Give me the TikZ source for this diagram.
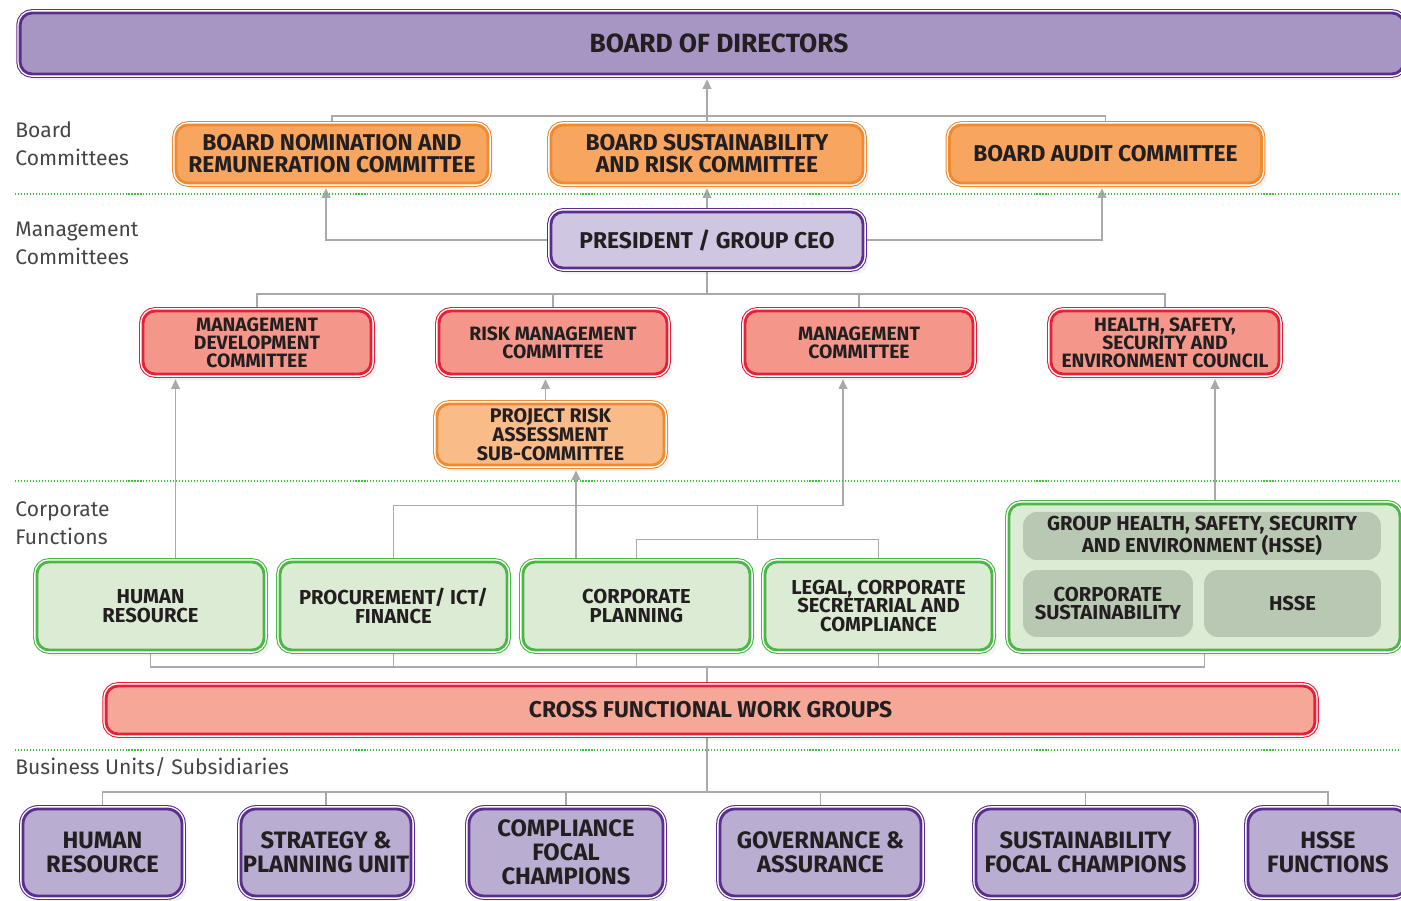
\documentclass[tikz,border=0pt]{standalone}
\usepackage{fontspec}
\setmainfont{Fira Sans}
\newfontfamily\boxfont{Fira Sans}
\usetikzlibrary{%
    arrows.meta,
    backgrounds,
    calc,
    positioning,
    shadows
}

\definecolor{inkdark}{HTML}{231F20}
\definecolor{tiergray}{HTML}{454545}
\definecolor{linkgray}{HTML}{A7A9AC}
\definecolor{sepgreen}{HTML}{3EC13C}
\definecolor{purpleline}{HTML}{5B2D8E}
\definecolor{bodfill}{HTML}{A795C4}
\definecolor{ceofill}{HTML}{CFC6E2}
\definecolor{unitfill}{HTML}{B9ADD2}
\definecolor{orangeline}{HTML}{F0892F}
\definecolor{orangefill}{HTML}{F8A55F}
\definecolor{subfill}{HTML}{F9BB88}
\definecolor{redline}{HTML}{E5213A}
\definecolor{mgmtfill}{HTML}{F4978A}
\definecolor{crossfill}{HTML}{F6A898}
\definecolor{greenline}{HTML}{4CB748}
\definecolor{funcfill}{HTML}{DCEBD4}
\definecolor{innerfill}{HTML}{B9C8B3}

\tikzset{
    ring/.style={
        drop shadow={opacity=.1, shadow xshift=.1cm, shadow yshift=-.12cm},
        preaction={draw=#1, line width=4.4pt},
        preaction={draw=white, line width=3.2pt},
        draw=#1, line width=1.6pt},
    box/.style={rounded corners=.24cm, align=center, inner sep=0pt,
        text=inkdark},
    bodbox/.style={box, ring=purpleline, fill=bodfill,
        font=\boxfont\bfseries\fontsize{15}{15}\selectfont},
    boardbox/.style={box, ring=orangeline, fill=orangefill,
        minimum width=6.24cm, minimum height=1.16cm,
        font=\boxfont\bfseries\fontsize{13}{12.5}\selectfont},
    ceobox/.style={box, ring=purpleline, fill=ceofill,
        minimum width=6.24cm, minimum height=1.12cm,
        font=\boxfont\bfseries\fontsize{13}{12.5}\selectfont},
    mgmtbox/.style={box, ring=redline, fill=mgmtfill,
        minimum width=4.56cm, minimum height=1.26cm,
        font=\boxfont\bfseries\fontsize{11}{10.3}\selectfont},
    subbox/.style={box, ring=orangeline, fill=subfill,
        minimum width=4.54cm, minimum height=1.22cm,
        font=\boxfont\bfseries\fontsize{11.2}{10.8}\selectfont},
    funcbox/.style={box, ring=greenline, fill=funcfill,
        minimum width=4.54cm, minimum height=1.76cm,
        font=\boxfont\bfseries\fontsize{11.5}{10.5}\selectfont},
    innerbox/.style={box, fill=innerfill, rounded corners=.28cm,
        font=\boxfont\bfseries\fontsize{11.5}{10.5}\selectfont},
    crossbox/.style={box, ring=redline, fill=crossfill,
        font=\boxfont\bfseries\fontsize{13}{13}\selectfont},
    unitbox/.style={box, ring=purpleline, fill=unitfill,
        rounded corners=.3cm, minimum height=1.74cm,
        font=\boxfont\bfseries\fontsize{13.5}{13.6}\selectfont},
}

\begin{document}
\begin{tikzpicture}[x=0.02cm, y=-0.02cm,
        line/.style={draw=linkgray, line width=.8pt},
        arr/.style={line, -{Triangle[length=5.5pt,width=5pt]}, shorten >=2.2pt},
        sep/.style={draw=sepgreen, line width=.9pt, dash pattern=on .6pt off 1.1pt},
        tier/.style={align=left, anchor=west, inner sep=0pt, text=tiergray,
            font=\fontsize{12}{16}\selectfont},
    ]
    \useasboundingbox (0,0) rectangle (1401,901);

    % tiers
    \draw[sep] (15,194) -- (1401,194);
    \draw[sep] (15,481) -- (1401,481);
    \draw[sep] (15,750) -- (1401,750);
    \node[tier] (lbboard) at (15,144) {Board\\Committees};
    \node[tier] (lbmgmt)  at (15,243) {Management\\Committees};
    \node[tier] (lbfunc)  at (15,523) {Corporate\\Functions};
    \node[tier] (lbunit)  at (15,767) {Business Units/ Subsidiaries};

    \node[bodbox, minimum width=27.68cm, minimum height=1.22cm] (bod) at (712,43.5)
        {\hspace*{.28cm}BOARD OF DIRECTORS};

    \node[boardbox] (bnrc) at (332,154)    {BOARD NOMINATION AND\\REMUNERATION COMMITTEE};
    \node[boardbox] (bsrc) at (707,154)    {BOARD SUSTAINABILITY\\AND RISK COMMITTEE};
    \node[boardbox] (bac)  at (1105.5,154) {BOARD AUDIT COMMITTEE};

    \node[ceobox] (ceo) at (707,240) {PRESIDENT / GROUP CEO};

    \node[mgmtbox] (mdc)   at (257,342.5)  {MANAGEMENT\\DEVELOPMENT\\COMMITTEE};
    \node[mgmtbox] (rmc)   at (553,342.5)  {RISK MANAGEMENT\\COMMITTEE};
    \node[mgmtbox] (mc)    at (859,342.5)  {MANAGEMENT\\COMMITTEE};
    \node[mgmtbox] (hssec) at (1165,342.5) {HEALTH, SAFETY,\\SECURITY AND\\ENVIRONMENT COUNCIL};
    \node[subbox]  (prasc) at (550.5,434.5) {PROJECT RISK\\ASSESSMENT\\SUB-COMMITTEE};

    \node[funcbox] (hr)   at (150.5,606) {HUMAN\\RESOURCE};
    \node[funcbox] (pif)  at (393.5,606) {PROCUREMENT/ ICT/\\FINANCE};
    \node[funcbox] (cp)   at (636.5,606) {CORPORATE\\PLANNING};
    \node[funcbox] (lcsc) at (878.5,606) {LEGAL, CORPORATE\\SECRETARIAL AND\\COMPLIANCE};
    \node[funcbox, minimum width=7.82cm, minimum height=2.92cm] (hsse) at (1204.5,577) {};
    \node[innerbox, minimum width=7.16cm, minimum height=.96cm] (ghsse) at (1202,536)
        {GROUP HEALTH, SAFETY, SECURITY\\AND ENVIRONMENT (HSSE)};
    \node[innerbox, minimum width=3.4cm, minimum height=1.34cm] (csus) at (1108,603.5)
        {CORPORATE\\SUSTAINABILITY};
    \node[innerbox, minimum width=3.54cm, minimum height=1.34cm] (hsseu) at (1292.5,603.5)
        {HSSE};

    \node[crossbox, minimum width=24.18cm, minimum height=.96cm] (cfwg) at (710.5,710)
        {CROSS FUNCTIONAL WORK GROUPS};

    \node[unitbox, minimum width=3.18cm] (buhr)  at (102.5,852.5) {HUMAN\\RESOURCE};
    \node[unitbox, minimum width=3.4cm]  (spu)   at (326,852.5)   {STRATEGY \&\\PLANNING UNIT};
    \node[unitbox, minimum width=3.88cm] (cfc)   at (566,852.5)   {COMPLIANCE\\FOCAL\\CHAMPIONS};
    \node[unitbox, minimum width=4.02cm] (ga)    at (820.5,852.5) {GOVERNANCE \&\\ASSURANCE};
    \node[unitbox, minimum width=4.38cm] (sfc)   at (1085.5,852.5) {SUSTAINABILITY\\FOCAL CHAMPIONS};
    \node[unitbox, minimum width=3.2cm]  (hssef) at (1328,852.5)  {HSSE\\FUNCTIONS};

    \begin{pgfonlayer}{background}
        % board
        \coordinate (bdbus) at (707,116);
        \draw[arr] (bsrc.north) -- (bsrc.north |- bod.south);
        \foreach \Node in {bnrc,bac}
            \draw[line] (\Node.north) |- (bdbus);
        \draw[arr] (ceo.west) -| ([xshift=-.12cm]bnrc.south);
        \draw[arr] (ceo.east) -| ([xshift=-.07cm]bac.south);
        \draw[arr] (ceo.north) -- (bsrc.south);

        % management
        \coordinate (mgbus) at (707,294);
        \draw[line] (ceo.south) -- (mgbus);
        \foreach \Node in {mdc,rmc,mc,hssec}
            \draw[line] (\Node.north) |- (mgbus);
        \draw[arr] ([xshift=-.1cm]prasc.north) -- ([xshift=-.1cm]prasc.north |- rmc.south);

        % functions
        \draw[arr] ([xshift=.5cm]hr.north) -- ([xshift=.5cm]hr.north |- mdc.south);
        \draw[arr] (pif.north) -- ++(0,-55) -| ([xshift=-.32cm]mc.south);
        \draw[line] (cp.north) -- ++(0,-21) -| (lcsc.north);
        \draw[line] ($(cp.north)!.5!(lcsc.north)+(0,-21)$) -- ++(0,-34);
        \draw[arr] ([xshift=-1.21cm]cp.north) -- ([xshift=-1.21cm]cp.north |- prasc.south);
        \draw[arr] ([xshift=.21cm]hsse.north) -- ([xshift=.21cm]hsse.north |- hssec.south);

        \coordinate (fnbus) at (707,667);
        \foreach \Node in {hr,pif,cp,lcsc,hsse}
            \draw[line] (\Node.south) |- (fnbus);
        \draw[line] (fnbus) -- (fnbus |- cfwg.north);

        % business units
        \coordinate (bubus) at (707,792);
        \draw[line] (cfwg.south -| bubus) -- (bubus);
        \foreach \Node in {buhr,spu,cfc,ga,sfc,hssef}
            \draw[line] (\Node.north) |- (bubus);
    \end{pgfonlayer}
\end{tikzpicture}
\end{document}
